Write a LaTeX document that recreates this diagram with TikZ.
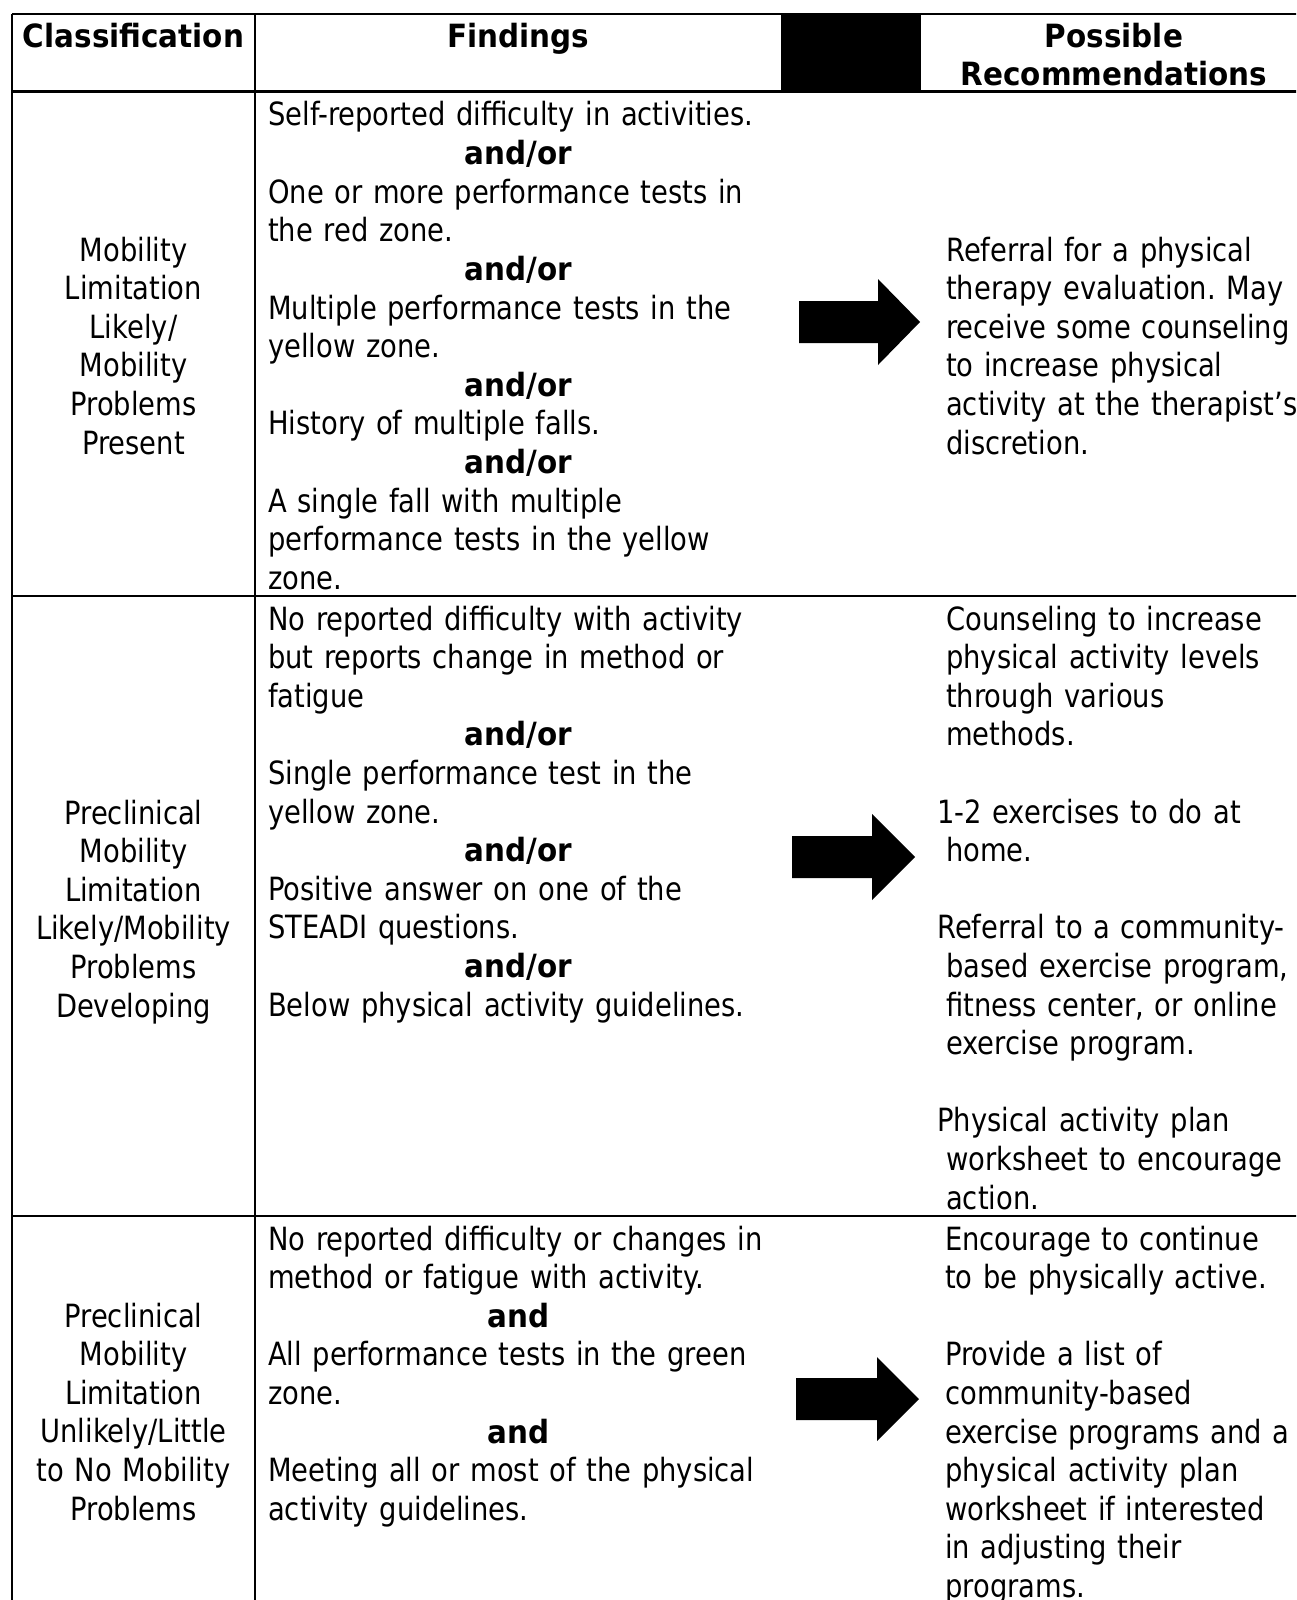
\documentclass[tikz,border=0pt]{standalone}
\usepackage{fontspec}
\setmainfont{DejaVu Sans}[UprightFeatures={FakeStretch=0.855},BoldFeatures={FakeStretch=0.92}]
\frenchspacing
\newcommand\andline[1]{\makebox[500pt][c]{\bfseries #1}}
\newcommand\ind{\hspace*{9pt}}
\begin{document}
\begin{tikzpicture}[x=1pt,y=-1pt,
  rule/.style={line width=2.2pt,black},
  celltext/.style={inner sep=0pt,font=\fontsize{32}{38.6}\selectfont},
  classcell/.style={celltext,anchor=base,text width=240pt,align=center},
  findcell/.style={celltext,anchor=base west,text width=560pt,align=left},
  reccell/.style={celltext,anchor=base west,text width=420pt,align=left},
  headcell/.style={celltext,anchor=base,text width=380pt,align=center,font=\fontsize{32}{38}\selectfont\bfseries},
  bigarrow/.style={fill=black}]
\useasboundingbox (0,0) rectangle (1296,1600);
\clip (0,0) rectangle (1296,1600);
\fill[white] (0,0) rectangle (1296,1600);

% table rules
\fill[black] (781,14) rectangle (921,91.5);
\draw[rule] (12,14) -- (1320,14);
\draw[rule] (12,91.5) -- (1320,91.5);
\draw[rule] (12,596) -- (1320,596);
\draw[rule] (12,1216) -- (1320,1216);
\draw[rule] (12,14) -- (12,1610);
\draw[rule] (255,14) -- (255,1610);

% header
\node[headcell] (hc) at (133.5,47.5) {Classification};
\node[headcell] (hf) at (518,47.5) {Findings};
\node[headcell] (hr) at (1114,47.5) {Possible\\Recommendations};

% row 1
\node[classcell] (c1) at (133.5,261) {Mobility\\Limitation\\Likely/\\Mobility\\Problems\\Present};
\node[findcell] (f1) at (268,126) {Self-reported difficulty in activities.\\
\andline{and/or}\\
One or more performance tests in\\
the red zone.\\
\andline{and/or}\\
Multiple performance tests in the\\
yellow zone.\\
\andline{and/or}\\
History of multiple falls.\\
\andline{and/or}\\
A single fall with multiple\\
performance tests in the yellow\\
zone.};
\node[reccell] (r1) at (946,261) {Referral for a physical\\
therapy evaluation. May\\
receive some counseling\\
to increase physical\\
activity at the therapist’s\\
discretion.};
\fill[bigarrow,shift={(799,322)}] (0,-21) -- (79,-21) -- (79,-43) -- (121,0) -- (79,43) -- (79,21) -- (0,21) -- cycle;

% row 2
\node[classcell] (c2) at (133.5,824) {Preclinical\\Mobility\\Limitation\\Likely/Mobility\\Problems\\Developing};
\node[findcell] (f2) at (268,630) {No reported difficulty with activity\\
but reports change in method or\\
fatigue\\
\andline{and/or}\\
Single performance test in the\\
yellow zone.\\
\andline{and/or}\\
Positive answer on one of the\\
STEADI questions.\\
\andline{and/or}\\
Below physical activity guidelines.};
\node[reccell] (r2) at (937,630) {\ind Counseling to increase\\
\ind physical activity levels\\
\ind through various\\
\ind methods.\\
\mbox{}\\
1-2 exercises to do at\\
\ind home.\\
\mbox{}\\
Referral to a community-\\
\ind based exercise program,\\
\ind fitness center, or online\\
\ind exercise program.\\
\mbox{}\\
Physical activity plan\\
\ind worksheet to encourage\\
\ind action.};
\fill[bigarrow,shift={(792,857)}] (0,-21) -- (80,-21) -- (80,-43) -- (123,0) -- (80,43) -- (80,21) -- (0,21) -- cycle;

% row 3
\node[classcell] (c3) at (133.5,1327) {Preclinical\\Mobility\\Limitation\\Unlikely/Little\\to No Mobility\\Problems};
\node[findcell] (f3) at (268,1250) {No reported difficulty or changes in\\
method or fatigue with activity.\\
\andline{and}\\
All performance tests in the green\\
zone.\\
\andline{and}\\
Meeting all or most of the physical\\
activity guidelines.};
\node[reccell] (r3) at (945,1250) {Encourage to continue\\
to be physically active.\\
\mbox{}\\
Provide a list of\\
community-based\\
exercise programs and a\\
physical activity plan\\
worksheet if interested\\
in adjusting their\\
programs.};
\fill[bigarrow,shift={(796,1399)}] (0,-21) -- (81,-21) -- (81,-42) -- (123,0) -- (81,42) -- (81,21) -- (0,21) -- cycle;
\end{tikzpicture}
\end{document}
